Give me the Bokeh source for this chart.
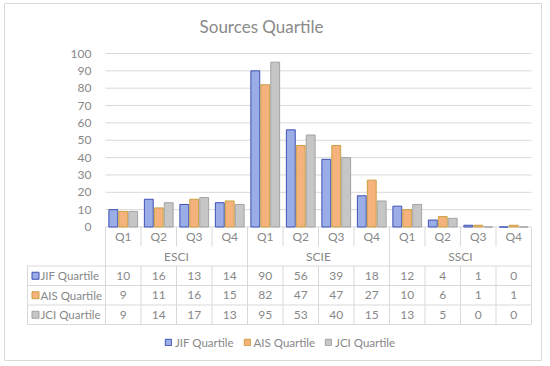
import numpy as np
from bokeh.plotting import figure
from bokeh.models import Range1d, Legend, LegendItem, Label
from bokeh.embed import file_html
from bokeh.resources import INLINE
from bokeh.core.properties import value

# ---- data ----
groups = ["ESCI", "SCIE", "SSCI"]
quartiles = ["Q1", "Q2", "Q3", "Q4"]
series_names = ["JIF Quartile", "AIS Quartile", "JCI Quartile"]
jif = [10, 16, 13, 14, 90, 56, 39, 18, 12, 4, 1, 0]
ais = [9, 11, 16, 15, 82, 47, 47, 27, 10, 6, 1, 1]
jci = [9, 14, 17, 13, 95, 53, 40, 15, 13, 5, 0, 0]
y_ticks = [0, 10, 20, 30, 40, 50, 60, 70, 80, 90, 100]

# ---- layout (pixels) ----
W, H = 538, 358
COL = 35.5          # width of one category column
LEFT = 101          # canvas left -> first category column
LABEL_W = 78        # width of the table's row-label column
RIGHT = W - LEFT - 12 * COL
ZERO = 223.5        # canvas top -> value 0
PLOT_H = 173.5      # pixels from 0 to 100
ROW_H = 19.5        # table row height

FONT = "Lato"
TXT = "#888888"
GRID = "#d9d9d9"
fills = ["#9aade6", "#f5b27c", "#c6c6c6"]
lines = ["#3f50b4", "#c8a040", "#a3a3a3"]

n = len(jif)
x_range = Range1d(-LEFT / COL, n + RIGHT / COL)
y_range = Range1d(-(H - ZERO) * 100 / PLOT_H, 100 + (ZERO - PLOT_H) * 100 / PLOT_H)

p = figure(width=W, height=H, x_range=x_range, y_range=y_range,
           x_axis_location=None, y_axis_location=None,
           toolbar_location=None, output_backend="svg", min_border=0,
           outline_line_color=GRID, background_fill_color="white",
           border_fill_color="white", margin=(3, 0, 0, 4))
for g in p.grid:
    g.visible = False
p.extra_y_ranges = {"table": Range1d(-(H - ZERO) / ROW_H, ZERO / ROW_H)}

# gridlines
p.segment(x0=[0] * len(y_ticks), x1=[n] * len(y_ticks), y0=y_ticks, y1=y_ticks,
          line_color=GRID, line_width=1)

# y tick labels
p.text(x=[0] * len(y_ticks), y=y_ticks, text=[str(t) for t in y_ticks],
       x_offset=-14, text_align="right", text_baseline="middle",
       text_font=value(FONT), text_font_size="12px", text_color=TXT)

# bars
xs = np.arange(n) + 0.5
offsets = [-0.28, 0.0, 0.28]
renderers = []
for k, vals in enumerate([jif, ais, jci]):
    r = p.vbar(x=xs + offsets[k], top=vals, bottom=0, width=0.25,
               fill_color=fills[k], line_color=lines[k], line_width=1)
    renderers.append(r)

# ---- data table ----
T = "table"
p.text(x=xs, y=[-0.5] * n, text=quartiles * len(groups), y_range_name=T,
       text_align="center", text_baseline="middle",
       text_font=value(FONT), text_font_size="12px", text_color=TXT)
gx = [len(quartiles) * i + len(quartiles) / 2 for i in range(len(groups))]
p.text(x=gx, y=[-1.5] * len(groups), text=groups, y_range_name=T,
       text_align="center", text_baseline="middle",
       text_font=value(FONT), text_font_size="12px", text_color=TXT)
label_left = -LABEL_W / COL
for k, vals in enumerate([jif, ais, jci]):
    yrow = -(2 + k) - 0.5
    p.text(x=xs, y=[yrow] * n, text=[str(v) for v in vals], y_range_name=T,
           text_align="center", text_baseline="middle",
           text_font=value(FONT), text_font_size="12px", text_color=TXT)
    p.text(x=[label_left], y=[yrow], text=[series_names[k]], y_range_name=T,
           x_offset=13, text_align="left", text_baseline="middle",
           text_font=value(FONT), text_font_size="11.5px", text_color=TXT)
    p.rect(x=[label_left + 8 / COL], y=[yrow], width=7, height=7,
           width_units="screen", height_units="screen", y_range_name=T,
           fill_color=fills[k], line_color=lines[k], line_width=1)

# table lines
hy = [-2, -3, -4, -5]
p.segment(x0=[label_left] * len(hy), x1=[n] * len(hy), y0=hy, y1=hy,
          y_range_name=T, line_color=GRID, line_width=1)
vx0, vy0, vy1 = [], [], []
for c in range(n + 1):
    if c % len(quartiles) == 0:
        vx0.append(c); vy0.append(0); vy1.append(-5)
    else:
        vx0 += [c, c]; vy0 += [0, -2]; vy1 += [-1, -5]
vx0.append(label_left); vy0.append(-2); vy1.append(-5)
p.segment(x0=vx0, x1=vx0, y0=vy0, y1=vy1, y_range_name=T,
          line_color=GRID, line_width=1)

# legend
legend = Legend(items=[LegendItem(label=series_names[k], renderers=[renderers[k]])
                       for k in range(3)],
                orientation="horizontal", location=(160, 12),
                border_line_color=None, background_fill_alpha=0,
                padding=0, margin=0, spacing=9, label_standoff=3,
                glyph_width=8, glyph_height=8, label_height=14,
                label_text_font=FONT, label_text_font_size="11.5px",
                label_text_color=TXT)
p.add_layout(legend)

# title
p.add_layout(Label(x=257, y=H - 23, x_units="screen", y_units="screen",
                   text="Sources Quartile", text_align="center",
                   text_baseline="middle", text_font=FONT,
                   text_font_size="17px", text_color="#8a8a8a"))

open("out.html", "w").write(file_html(p, INLINE))
